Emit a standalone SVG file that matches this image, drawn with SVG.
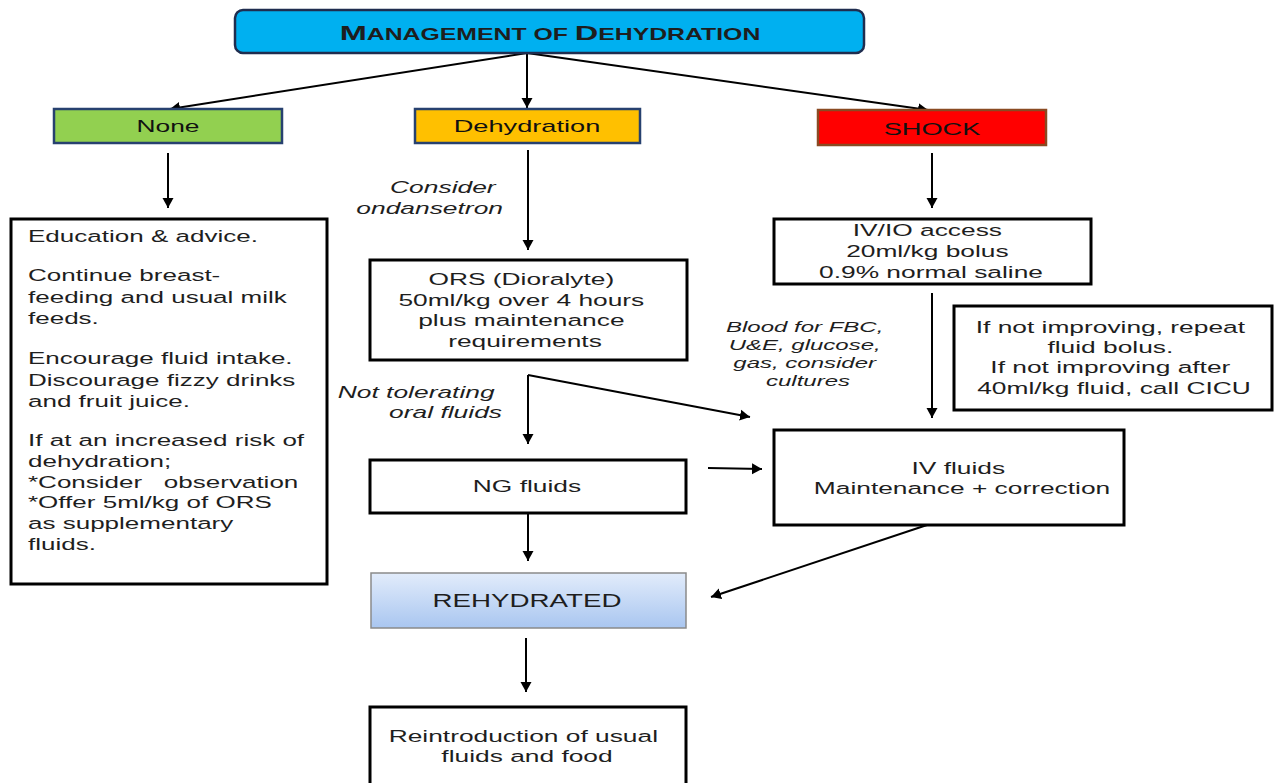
<svg xmlns="http://www.w3.org/2000/svg" width="1280" height="783" viewBox="0 0 1280 783">
  <defs>
    <marker id="ah" markerUnits="userSpaceOnUse" markerWidth="12" markerHeight="12" refX="10" refY="6" orient="auto">
      <path d="M0,0.5 L10,6 L0,11.5 z" fill="#000"/>
    </marker>
    <linearGradient id="rehyd" x1="0" y1="0" x2="0" y2="1">
      <stop offset="0" stop-color="#e2ecfb"/>
      <stop offset="1" stop-color="#a9c6f0"/>
    </linearGradient>
    <style>
      text { font-family: "Liberation Sans", Arial, sans-serif; fill: #1e1e1e; }
      .b { font-size: 17px; }
      .lbl { font-size: 17px; fill: #111; }
      .it { font-size: 16.5px; font-style: italic; }
      .it2 { font-size: 15px; font-style: italic; }
      .box { fill: #fff; stroke: #000; stroke-width: 3; }
      .conn line, .conn polyline { stroke: #000; stroke-width: 2; fill: none; }
    </style>
  </defs>
  <rect width="1280" height="783" fill="#fff"/>

  <!-- connectors -->
  <g class="conn" id="connectors">
    <line x1="527" y1="53" x2="170" y2="109" marker-end="url(#ah)"/>
    <line x1="527" y1="53" x2="527" y2="108" marker-end="url(#ah)"/>
    <line x1="527" y1="53" x2="928" y2="110" marker-end="url(#ah)"/>
    <line x1="168" y1="153" x2="168" y2="208" marker-end="url(#ah)"/>
    <line x1="528" y1="150" x2="528" y2="250" marker-end="url(#ah)"/>
    <line x1="932" y1="153" x2="932" y2="208" marker-end="url(#ah)"/>
    <line x1="528" y1="375" x2="528" y2="444" marker-end="url(#ah)"/>
    <line x1="528" y1="375" x2="750" y2="417" marker-end="url(#ah)"/>
    <line x1="932" y1="293" x2="932" y2="418" marker-end="url(#ah)"/>
    <line x1="708" y1="468" x2="762" y2="469" marker-end="url(#ah)"/>
    <line x1="528" y1="513" x2="528" y2="561" marker-end="url(#ah)"/>
    <line x1="927" y1="525" x2="711" y2="597" marker-end="url(#ah)"/>
    <line x1="526" y1="638" x2="526" y2="692" marker-end="url(#ah)"/>
  </g>

  <!-- title -->
  <g id="title">
    <rect x="235" y="10" width="629" height="43" rx="8" fill="#00b0f0" stroke="#1f2d4f" stroke-width="2.5"/>
    <text transform="translate(550,40) scale(1.55,1)" text-anchor="middle" font-weight="bold" fill="#111"><tspan font-size="21">M</tspan><tspan font-size="16">ANAGEMENT OF </tspan><tspan font-size="21">D</tspan><tspan font-size="16">EHYDRATION</tspan></text>
  </g>

  <g id="none">
    <rect x="54" y="109" width="228" height="34" fill="#92d050" stroke="#27416f" stroke-width="2.5"/>
    <text class="lbl" transform="translate(168,132) scale(1.55,1)" text-anchor="middle">None</text>
  </g>

  <g id="dehydration">
    <rect x="415" y="109" width="225" height="34" fill="#ffc000" stroke="#27416f" stroke-width="2.5"/>
    <text class="lbl" transform="translate(527,132) scale(1.6,1)" text-anchor="middle">Dehydration</text>
  </g>

  <g id="shock">
    <rect x="818" y="110" width="228" height="35" fill="#ff0000" stroke="#8a4a22" stroke-width="2.5"/>
    <text class="lbl" transform="translate(932,135) scale(1.6,1)" text-anchor="middle">SHOCK</text>
  </g>

  <g id="advice">
    <rect class="box" x="11" y="219" width="316" height="365"/>
    <text class="b" transform="translate(28,242) scale(1.53,1)">
      <tspan x="0" y="0">Education &amp; advice.</tspan>
      <tspan x="0" y="39.5">Continue breast-</tspan>
      <tspan x="0" y="61">feeding and usual milk</tspan>
      <tspan x="0" y="82">feeds.</tspan>
      <tspan x="0" y="122">Encourage fluid intake.</tspan>
      <tspan x="0" y="144">Discourage fizzy drinks</tspan>
      <tspan x="0" y="165">and fruit juice.</tspan>
      <tspan x="0" y="204">If at an increased risk of</tspan>
      <tspan x="0" y="225">dehydration;</tspan>
      <tspan x="0" y="246" xml:space="preserve">*Consider   observation</tspan>
      <tspan x="0" y="266">*Offer 5ml/kg of ORS</tspan>
      <tspan x="0" y="287">as supplementary</tspan>
      <tspan x="0" y="308">fluids.</tspan>
    </text>
  </g>

  <g id="ondansetron-label">
    <text class="it" transform="translate(503,193) scale(1.6,1)" text-anchor="end">
      <tspan x="0" y="0">Consider</tspan>
      <tspan x="0" y="21">ondansetron</tspan>
    </text>
  </g>

  <g id="ors">
    <rect class="box" x="370" y="260" width="317" height="100"/>
    <text class="b" transform="translate(525,285) scale(1.55,1)" text-anchor="middle">
      <tspan x="0" y="0">ORS (Dioralyte)</tspan>
      <tspan x="0" y="21">50ml/kg over 4 hours</tspan>
      <tspan x="0" y="41.5">plus maintenance</tspan>
      <tspan x="0" y="62">requirements</tspan>
    </text>
  </g>

  <g id="not-tolerating-label">
    <text class="it" transform="translate(502,398) scale(1.6,1)" text-anchor="end">
      <tspan x="0" y="0">Not tolerating</tspan>
      <tspan x="0" y="20.5">oral fluids</tspan>
    </text>
  </g>

  <g id="ng">
    <rect class="box" x="370" y="460" width="316" height="53"/>
    <text class="b" transform="translate(527,492) scale(1.55,1)" text-anchor="middle">NG fluids</text>
  </g>

  <g id="rehydrated">
    <rect x="371" y="573" width="315" height="55" fill="url(#rehyd)" stroke="#8a8a8a" stroke-width="1.5"/>
    <text transform="translate(527,607) scale(1.5,1)" text-anchor="middle" font-size="18.5" fill="#222">REHYDRATED</text>
  </g>

  <g id="reintroduction">
    <rect class="box" x="370" y="707" width="316" height="80"/>
    <text class="b" transform="translate(527,742) scale(1.55,1)" text-anchor="middle">
      <tspan x="0" y="0">Reintroduction of usual</tspan>
      <tspan x="0" y="20.5">fluids and food</tspan>
    </text>
  </g>

  <g id="ivio">
    <rect class="box" x="774" y="219" width="317" height="65"/>
    <text class="b" transform="translate(931,236) scale(1.55,1)" text-anchor="middle">
      <tspan x="0" y="0">IV/IO access</tspan>
      <tspan x="0" y="21">20ml/kg bolus</tspan>
      <tspan x="0" y="42">0.9% normal saline</tspan>
    </text>
  </g>

  <g id="blood-label">
    <text class="it2" transform="translate(808,332) scale(1.6,1)" text-anchor="middle">
      <tspan x="0" y="0">Blood for FBC,</tspan>
      <tspan x="0" y="18">U&amp;E, glucose,</tspan>
      <tspan x="0" y="36">gas, consider</tspan>
      <tspan x="0" y="54">cultures</tspan>
    </text>
  </g>

  <g id="repeat">
    <rect class="box" x="954" y="306" width="318" height="104"/>
    <text class="b" transform="translate(1114,333) scale(1.55,1)" text-anchor="middle">
      <tspan x="0" y="0">If not improving, repeat</tspan>
      <tspan x="0" y="20.5">fluid bolus.</tspan>
      <tspan x="0" y="40.5">If not improving after</tspan>
      <tspan x="0" y="61">40ml/kg fluid, call CICU</tspan>
    </text>
  </g>

  <g id="ivfluids">
    <rect class="box" x="774" y="430" width="350" height="95"/>
    <text class="b" transform="translate(962,474) scale(1.55,1)" text-anchor="middle">
      <tspan x="0" y="0">IV fluids</tspan>
      <tspan x="0" y="20.5">Maintenance + correction</tspan>
    </text>
  </g>
</svg>
